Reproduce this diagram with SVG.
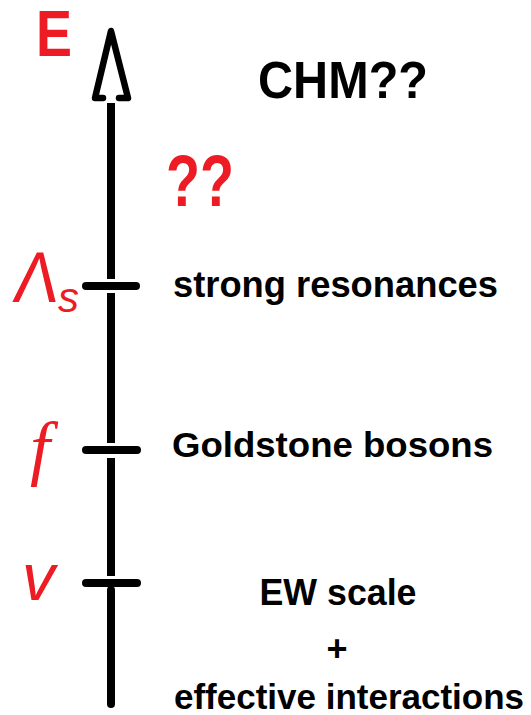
<svg xmlns="http://www.w3.org/2000/svg" width="531" height="715" viewBox="0 0 531 715">
<style>
.ax{stroke:#000;stroke-width:8;fill:none}
.tick{stroke:#000;stroke-width:8;stroke-linecap:round}
.red{fill:#ed1c24;font-family:"Liberation Sans",Arial,sans-serif}
.lbl{fill:#000;font-family:"Liberation Sans",Arial,sans-serif;font-weight:bold}
</style>
<rect width="531" height="715" fill="#fff"/>
<g id="connectors">
<line class="ax" x1="111" y1="103" x2="111" y2="279"/>
<line class="ax" x1="111" y1="293" x2="111" y2="443"/>
<line class="ax" x1="111" y1="458" x2="111" y2="576"/>
<line class="ax" x1="111" y1="590" x2="111" y2="704" stroke-linecap="round"/>
<polyline points="103,98 95,98 111,31 128,98 119,98" fill="none" stroke="#000" stroke-width="6.5" stroke-linejoin="round" stroke-linecap="round"/>
</g>
<g id="axis-label">
<text class="red" x="36" y="56" font-size="65" font-weight="bold" textLength="36" lengthAdjust="spacingAndGlyphs">E</text>
</g>
<g id="chm">
<text class="lbl" x="258" y="98" font-size="51" textLength="170" lengthAdjust="spacingAndGlyphs">CHM??</text>
</g>
<g id="unknown">
<text class="red" x="166" y="206" font-size="72" font-weight="bold" textLength="68" lengthAdjust="spacingAndGlyphs">??</text>
</g>
<g id="lambda-s">
<line class="tick" x1="86" y1="286" x2="136" y2="286"/>
<text class="red" x="0" y="0" font-size="72" transform="translate(12,302) skewX(-7)" textLength="44" lengthAdjust="spacingAndGlyphs">Λ</text>
<text class="red" x="58" y="312" font-size="42" font-style="italic">s</text>
<text class="lbl" x="173" y="297" font-size="36" textLength="325" lengthAdjust="spacingAndGlyphs">strong resonances</text>
</g>
<g id="f">
<line class="tick" x1="86" y1="450" x2="137" y2="450"/>
<text x="30" y="472" font-size="72" font-style="italic" fill="#ed1c24" font-family="'Liberation Serif','Times New Roman',serif">f</text>
<text class="lbl" x="172" y="457" font-size="35" textLength="321" lengthAdjust="spacingAndGlyphs">Goldstone bosons</text>
</g>
<g id="v">
<line class="tick" x1="86" y1="583" x2="137" y2="583"/>
<text class="red" x="22" y="600" font-size="66" font-style="italic">v</text>
<text class="lbl" x="338" y="605" font-size="36" text-anchor="middle" textLength="157" lengthAdjust="spacingAndGlyphs">EW scale</text>
<text class="lbl" x="337" y="661" font-size="36" text-anchor="middle">+</text>
<text class="lbl" x="174" y="709" font-size="35" textLength="350" lengthAdjust="spacingAndGlyphs">effective interactions</text>
</g>
</svg>
